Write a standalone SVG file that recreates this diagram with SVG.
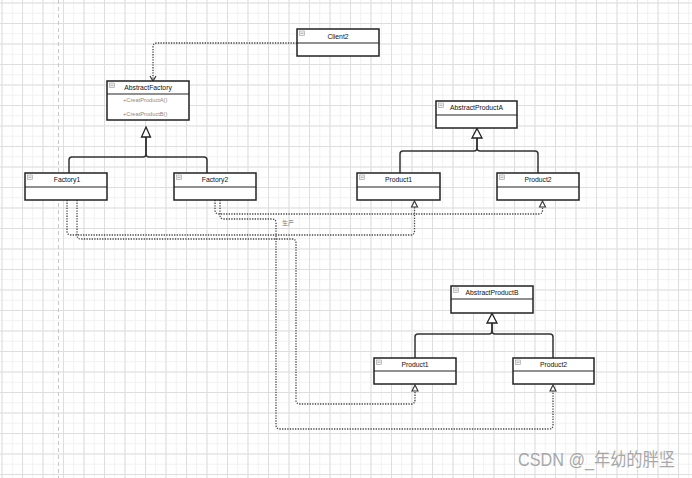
<svg xmlns="http://www.w3.org/2000/svg" width="692" height="478" viewBox="0 0 692 478">
<defs>
<pattern id="minor" patternUnits="userSpaceOnUse" x="1.5" y="2.5" width="10.25" height="10.25">
<path d="M0,0.5 H10.25 M0.5,0 V10.25" stroke="#f1f1f1" stroke-width="1" fill="none"/>
</pattern>
<pattern id="major" patternUnits="userSpaceOnUse" x="1.5" y="2.5" width="20.5" height="20.5">
<path d="M0,0.5 H20.5 M0.5,0 V20.5" stroke="#dedede" stroke-width="1" fill="none"/>
</pattern>
<g id="icon"><rect x="0" y="0" width="5" height="4.5" fill="#f4f4f4" stroke="#999" stroke-width="0.6"/><path d="M1,2.25 H4" stroke="#777" stroke-width="0.6"/></g>
</defs>
<style>
.box{fill:#ffffff;stroke:#222;stroke-width:1.5}
.div{stroke:#222;stroke-width:1.2;fill:none}
.t{font-family:"Liberation Sans",Arial,sans-serif;font-size:6.8px;fill:#111;text-anchor:middle}
.m{font-family:"Liberation Sans",Arial,sans-serif;font-size:5.7px;fill:#888}
.gen{fill:none;stroke:#333;stroke-width:1.5}
.tri{fill:#fff;stroke:#222;stroke-width:1.3}
.dot{fill:none;stroke:#444;stroke-width:1.3;stroke-dasharray:1.3 1.3}
.rtri{fill:#fff;stroke:#333;stroke-width:1.1}
</style>
<rect width="692" height="478" fill="#fff"/>
<rect width="692" height="478" fill="url(#minor)"/>
<rect width="692" height="478" fill="url(#major)"/>
<path d="M58.5,0 V478" stroke="#c8c8c8" stroke-width="1" stroke-dasharray="4 3"/>

<g id="connectors">
<path class="dot" d="M297,43 H157 Q153,43 153,47 V80"/>
<path d="M150,76 L153,81 L156,76" fill="none" stroke="#333" stroke-width="1.2"/>
<path class="gen" d="M146,137 V154 Q146,157 143,157 H72 Q69,157 69,160 V173"/>
<path class="gen" d="M146,137 V154 Q146,157 149,157 H204 Q207,157 207,160 V173"/>
<path class="tri" d="M146,127 L150.5,137 L141.5,137 Z"/>
<path class="gen" d="M477,138 V148 Q477,151 474,151 H403 Q400,151 400,154 V173"/>
<path class="gen" d="M477,138 V148 Q477,151 480,151 H535 Q538,151 538,154 V173"/>
<path class="tri" d="M477,128.5 L482,138 L472,138 Z"/>
<path class="gen" d="M492,323 V331 Q492,334 489,334 H418 Q415,334 415,337 V358"/>
<path class="gen" d="M492,323 V331 Q492,334 495,334 H550 Q553,334 553,337 V358"/>
<path class="tri" d="M492,313.5 L497,323 L487,323 Z"/>
<path class="dot" d="M67,200 V231 Q67,235 71,235 H410.5 Q414.5,235 414.5,231 V207"/>
<path class="dot" d="M77,200 V235 Q77,239 81,239 H292 Q296,239 296,243 V400 Q296,404 300,404 H411 Q415,404 415,400 V391"/>
<path class="dot" d="M215,200 V210 Q215,214 219,214 H538.5 Q542.5,214 542.5,210 V207"/>
<path class="dot" d="M220,200 V215 Q220,219 224,219 H272 Q276,219 276,223 V425 Q276,429 280,429 H549 Q553,429 553,425 V391"/>
<path class="rtri" d="M414.5,201 L417.5,207 L411.5,207 Z"/>
<path class="rtri" d="M542.5,201 L545.5,207 L539.5,207 Z"/>
<path class="rtri" d="M415,385 L418,391 L412,391 Z"/>
<path class="rtri" d="M553,385 L556,391 L550,391 Z"/>
<text x="282" y="225" style="font-family:'Liberation Sans','Noto Sans CJK SC',sans-serif;font-size:6px;fill:#777">生产</text>
</g>

<g id="client2">
<rect class="box" x="297" y="29" width="82" height="27"/>
<path class="div" d="M297,43 H379"/>
<use href="#icon" x="299.5" y="31"/>
<text class="t" x="338" y="38.5">Client2</text>
</g>

<g id="abstractfactory">
<rect class="box" x="107" y="81" width="82" height="39"/>
<path class="div" d="M107,94 H189"/>
<use href="#icon" x="109.5" y="83"/>
<text class="t" x="148" y="90">AbstractFactory</text>
<text class="m" x="123" y="102">+CreatProductA()</text>
<text class="m" x="123" y="116">+CreatProductB()</text>
</g>

<g id="factory1">
<rect class="box" x="25" y="173" width="82" height="27"/>
<path class="div" d="M25,187 H107"/>
<use href="#icon" x="27.5" y="175"/>
<text class="t" x="67" y="182">Factory1</text>
</g>

<g id="factory2">
<rect class="box" x="174" y="173" width="82" height="27"/>
<path class="div" d="M174,187 H256"/>
<use href="#icon" x="176.5" y="175"/>
<text class="t" x="215" y="182">Factory2</text>
</g>

<g id="abstractproducta">
<rect class="box" x="436" y="101" width="81" height="27"/>
<path class="div" d="M436,115 H517"/>
<use href="#icon" x="438.5" y="103"/>
<text class="t" x="476.5" y="110">AbstractProductA</text>
</g>

<g id="product1a">
<rect class="box" x="357" y="173" width="83" height="27"/>
<path class="div" d="M357,187 H440"/>
<use href="#icon" x="359.5" y="175"/>
<text class="t" x="398.5" y="182">Product1</text>
</g>

<g id="product2a">
<rect class="box" x="497" y="173" width="82" height="27"/>
<path class="div" d="M497,187 H579"/>
<use href="#icon" x="499.5" y="175"/>
<text class="t" x="538" y="182">Product2</text>
</g>

<g id="abstractproductb">
<rect class="box" x="451" y="286" width="82" height="27"/>
<path class="div" d="M451,299 H533"/>
<use href="#icon" x="453.5" y="288"/>
<text class="t" x="492" y="295">AbstractProductB</text>
</g>

<g id="product1b">
<rect class="box" x="374" y="358" width="82" height="26"/>
<path class="div" d="M374,371 H456"/>
<use href="#icon" x="376.5" y="360"/>
<text class="t" x="415" y="367">Product1</text>
</g>

<g id="product2b">
<rect class="box" x="513" y="358" width="81" height="26"/>
<path class="div" d="M513,371 H594"/>
<use href="#icon" x="515.5" y="360"/>
<text class="t" x="553.5" y="367">Product2</text>
</g>

<text x="518" y="466" textLength="157" lengthAdjust="spacingAndGlyphs" style="font-family:'Liberation Sans','Noto Sans CJK SC',sans-serif;font-size:18px;fill:#9a9a9a;opacity:0.85">CSDN @_年幼的胖坚</text>
</svg>
